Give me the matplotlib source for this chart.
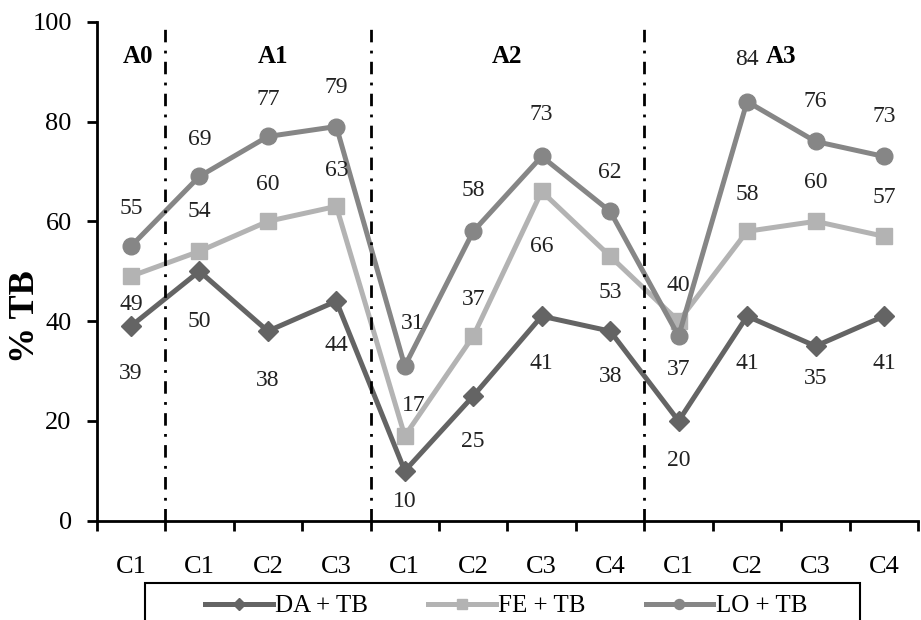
import numpy as np
import matplotlib.pyplot as plt
from matplotlib.patches import Rectangle

plt.rcParams['font.family'] = ['Liberation Serif', 'DejaVu Serif']

cats = ['C1', 'C1', 'C2', 'C3', 'C1', 'C2', 'C3', 'C4', 'C1', 'C2', 'C3', 'C4']
groups = ['A0', 'A1', 'A2', 'A3']
group_pos = [0.1, 2.07, 5.5, 9.5]
group_breaks = [0.5, 3.5, 7.5]

da_tb = [39, 50, 38, 44, 10, 25, 41, 38, 20, 41, 35, 41]
fe_tb = [49, 54, 60, 63, 17, 37, 66, 53, 40, 58, 60, 57]
lo_tb = [55, 69, 77, 79, 31, 58, 73, 62, 37, 84, 76, 73]

# shift of each value label from its point, in pixels (+ is up / right)
da_dy = [-47, -50, -49, -44, -31, -45, -47, -45, -40, -47, -32, -47]
fe_dy = [-28, 40, 37, 36, 30, 37, -55, -36, 36, 37, 39, 39]
lo_dy = [38, 37, 37, 39, 43, 41, 42, 39, -33, 42, 40, 40]
da_dx = [0] * 12
fe_dx = [0, 0, 0, 0, 9, 0, 0, 0, 0, 0, 0, 0]
lo_dx = [0, 0, 0, 0, 8, 0, 0, 0, 0, 0, 0, 0]

x = np.arange(len(cats))

fig = plt.figure(figsize=(9.21, 6.2), dpi=100)
ax = fig.add_axes([0.105, 0.16, 0.892, 0.805])

series = [
    ('DA + TB', da_tb, da_dx, da_dy, '#646464', 'D', 10),
    ('FE + TB', fe_tb, fe_dx, fe_dy, '#b3b3b3', 's', 11),
    ('LO + TB', lo_tb, lo_dx, lo_dy, '#868686', 'o', 12),
]
for name, vals, dxs, dys, col, mk, ms in series:
    ax.plot(x, vals, color=col, lw=3.6, marker=mk, markersize=ms, label=name)
    for xi, v, dx, dy in zip(x, vals, dxs, dys):
        ax.annotate(str(v), (xi, v), xytext=(dx * 0.72, dy * 0.72),
                    textcoords='offset points', ha='center', va='center',
                    fontsize=17, color='#222222')

for b in group_breaks:
    ax.plot([b, b], [0, 98.5], color='black', lw=2, linestyle=(0, (4.5, 3, 1, 3)))

for g, gp in zip(groups, group_pos):
    ax.text(gp, 93, g, ha='center', va='center', fontsize=18, fontweight='bold')

ax.set_xlim(-0.5, len(cats) - 0.5)
ax.set_ylim(0, 100)
ax.set_yticks(range(0, 101, 20))
ax.set_xticks(np.arange(-0.5, len(cats), 1))
ax.set_xticklabels([])
ax.set_xticks(x, minor=True)
ax.set_xticklabels(cats, minor=True)
ax.tick_params(axis='x', which='minor', length=0, pad=25, labelsize=19)
ax.tick_params(axis='x', which='major', length=7, width=2, direction='out')
ax.tick_params(axis='y', length=7, width=2, direction='out', labelsize=19, pad=11)
for sp in ['top', 'right']:
    ax.spines[sp].set_visible(False)
for sp in ['left', 'bottom']:
    ax.spines[sp].set_linewidth(2)
ax.set_ylabel('% TB', fontsize=26, fontweight='bold')
ax.yaxis.set_label_coords(-0.066, 0.41)

# legend box runs off the bottom of the figure
fig.patches.append(Rectangle((145 / 921, -0.05), 715 / 921, 0.05 + 1 - 583 / 620,
                             transform=fig.transFigure, fill=False,
                             edgecolor='black', lw=1.5))
fig.legend(loc='center', bbox_to_anchor=(506 / 921, 1 - 606 / 620), ncol=3,
           fontsize=18, frameon=False, handlelength=2.7, handletextpad=0.1,
           columnspacing=2.4, markerscale=0.6)

fig.savefig('out.png', dpi=100)
